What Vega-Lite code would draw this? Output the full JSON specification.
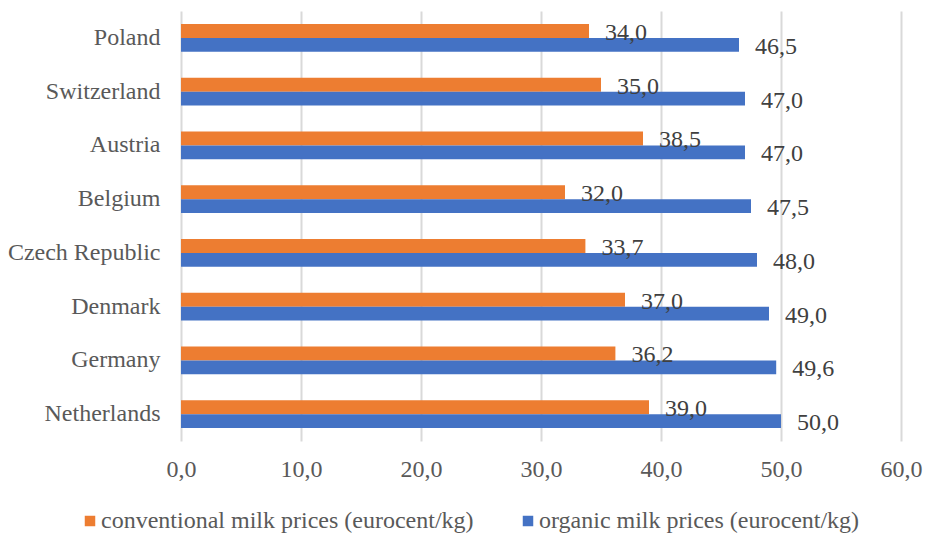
{
  "$schema": "https://vega.github.io/schema/vega-lite/v6.json",
  "width": 720,
  "height": 430,
  "autosize": "none",
  "padding": {"left": 181, "top": 11, "right": 24, "bottom": 92},
  "background": "white",
  "config": {
    "font": "Liberation Serif",
    "view": {"stroke": null},
    "locale": {"number": {"decimal": ",", "thousands": ".", "grouping": [3], "currency": ["", " €"]}}
  },
  "data": {
    "values": [
      {"country": "Poland", "series": "conventional milk prices (eurocent/kg)", "value": 34.0},
      {"country": "Poland", "series": "organic milk prices (eurocent/kg)", "value": 46.5},
      {"country": "Switzerland", "series": "conventional milk prices (eurocent/kg)", "value": 35.0},
      {"country": "Switzerland", "series": "organic milk prices (eurocent/kg)", "value": 47.0},
      {"country": "Austria", "series": "conventional milk prices (eurocent/kg)", "value": 38.5},
      {"country": "Austria", "series": "organic milk prices (eurocent/kg)", "value": 47.0},
      {"country": "Belgium", "series": "conventional milk prices (eurocent/kg)", "value": 32.0},
      {"country": "Belgium", "series": "organic milk prices (eurocent/kg)", "value": 47.5},
      {"country": "Czech Republic", "series": "conventional milk prices (eurocent/kg)", "value": 33.7},
      {"country": "Czech Republic", "series": "organic milk prices (eurocent/kg)", "value": 48.0},
      {"country": "Denmark", "series": "conventional milk prices (eurocent/kg)", "value": 37.0},
      {"country": "Denmark", "series": "organic milk prices (eurocent/kg)", "value": 49.0},
      {"country": "Germany", "series": "conventional milk prices (eurocent/kg)", "value": 36.2},
      {"country": "Germany", "series": "organic milk prices (eurocent/kg)", "value": 49.6},
      {"country": "Netherlands", "series": "conventional milk prices (eurocent/kg)", "value": 39.0},
      {"country": "Netherlands", "series": "organic milk prices (eurocent/kg)", "value": 50.0}
    ]
  },
  "encoding": {
    "y": {
      "field": "country",
      "type": "nominal",
      "sort": null,
      "title": null,
      "scale": {"paddingInner": 0.48, "paddingOuter": 0.24},
      "axis": {
        "domain": false,
        "ticks": false,
        "grid": false,
        "labelFont": "Liberation Serif",
        "labelFontSize": 24,
        "labelColor": "#595959",
        "labelPadding": 21,
        "labelLimit": 300
      }
    },
    "yOffset": {
      "field": "series",
      "type": "nominal",
      "sort": ["conventional milk prices (eurocent/kg)", "organic milk prices (eurocent/kg)"]
    },
    "x": {
      "field": "value",
      "type": "quantitative",
      "title": null,
      "scale": {"domain": [0, 60], "nice": false},
      "axis": {
        "values": [0, 10, 20, 30, 40, 50, 60],
        "format": ".1f",
        "domain": false,
        "ticks": false,
        "grid": true,
        "gridColor": "#d9d9d9",
        "gridWidth": 2,
        "labelFont": "Liberation Serif",
        "labelFontSize": 24,
        "labelColor": "#595959",
        "labelPadding": 16,
        "labelFlush": false
      }
    }
  },
  "layer": [
    {
      "mark": {"type": "bar"},
      "encoding": {
        "color": {
          "field": "series",
          "type": "nominal",
          "sort": ["conventional milk prices (eurocent/kg)", "organic milk prices (eurocent/kg)"],
          "scale": {"range": ["#ED7D31", "#4472C4"]},
          "legend": {
            "title": null,
            "orient": "none",
            "direction": "horizontal",
            "legendX": -103,
            "legendY": 498,
            "symbolType": "square",
            "symbolSize": 110,
            "symbolStrokeWidth": 0,
            "labelFont": "Liberation Serif",
            "labelFontSize": 24,
            "labelColor": "#595959",
            "labelOffset": -1,
            "labelLimit": 500,
            "columnPadding": 42
          }
        }
      }
    },
    {
      "mark": {"type": "text", "align": "left", "baseline": "middle", "dx": 16, "dy": 2, "font": "Liberation Serif", "fontSize": 24, "color": "#404040"},
      "encoding": {
        "text": {"field": "value", "type": "quantitative", "format": ".1f"}
      }
    }
  ]
}
